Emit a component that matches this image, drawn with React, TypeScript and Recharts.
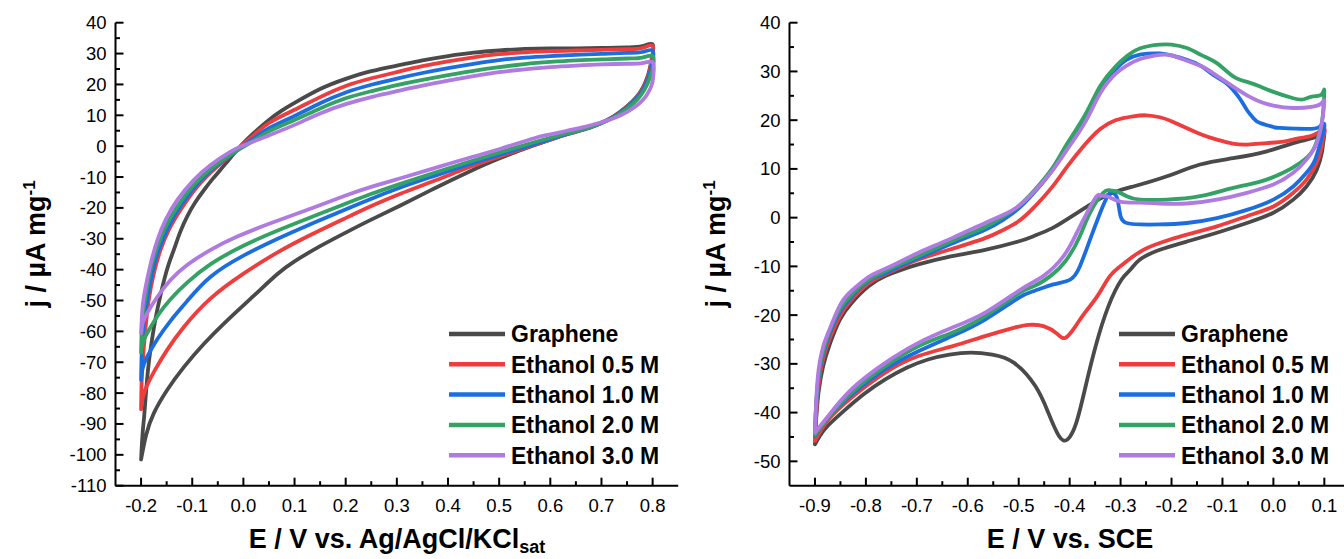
import React from "react";
import { LineChart, Line, XAxis, YAxis, Legend } from "recharts";

const FONT = "'Liberation Sans', Arial, Helvetica, sans-serif";

const seriesNames = ["Graphene", "Ethanol 0.5 M", "Ethanol 1.0 M", "Ethanol 2.0 M", "Ethanol 3.0 M"];
const seriesColors = ["#4a4a4a", "#ef3d3d", "#1c6ee0", "#33a264", "#b07be0"];

// tick labels (majors); minor ticks sit halfway between
const xMajorA = [-0.2, -0.1, 0.0, 0.1, 0.2, 0.3, 0.4, 0.5, 0.6, 0.7, 0.8];
const yMajorA = [-110, -100, -90, -80, -70, -60, -50, -40, -30, -20, -10, 0, 10, 20, 30, 40];
const xMajorB = [-0.9, -0.8, -0.7, -0.6, -0.5, -0.4, -0.3, -0.2, -0.1, 0.0, 0.1];
const yMajorB = [-50, -40, -30, -20, -10, 0, 10, 20, 30, 40];

// panel a: [E (V vs Ag/AgCl), j (uA/mg)], loop order: anodic then cathodic
const grapheneA = [
  [-0.2, -101.5], [-0.197, -93], [-0.194, -87.6], [-0.19, -79], [-0.185, -70.3], [-0.178, -62], [-0.171, -55.2],
  [-0.163, -49], [-0.155, -43.4], [-0.146, -38.2], [-0.136, -33.6], [-0.124, -28], [-0.11, -22.8], [-0.094, -18.2],
  [-0.077, -14.2], [-0.06, -10.6], [-0.045, -7.7], [-0.028, -4.3], [-0.012, -1.2], [0.0, 1.0], [0.02, 4.2], [0.05, 8.5],
  [0.075, 11.5], [0.1, 14], [0.15, 18.5], [0.2, 21.8], [0.25, 24.3], [0.3, 26.1], [0.35, 27.8], [0.4, 29.2], [0.45, 30.3],
  [0.5, 31.0], [0.55, 31.5], [0.6, 31.7], [0.65, 31.7], [0.7, 31.8], [0.75, 32.0], [0.78, 32.4], [0.8, 33],
  [0.799, 29], [0.795, 25.5], [0.79, 22.5], [0.782, 19.3], [0.769, 16], [0.749, 12.8], [0.723, 9.6], [0.697, 7.4],
  [0.665, 5.4], [0.632, 3.9], [0.6, 2.1], [0.567, 0.2], [0.5, -4.0], [0.437, -8.6], [0.372, -13.8], [0.307, -19.2],
  [0.25, -23.8], [0.2, -28.0], [0.15, -32.4], [0.1, -37.3], [0.066, -41.5], [0.02, -48.5], [-0.032, -56.5], [-0.077, -64],
  [-0.116, -71.5], [-0.149, -79], [-0.175, -86.5], [-0.19, -93.5], [-0.2, -101.5],
];
const ethanol05A = [
  [-0.2, -85.2], [-0.199, -76.8], [-0.196, -68.2], [-0.191, -58.5], [-0.185, -49.8], [-0.175, -41.2], [-0.162, -33.6],
  [-0.146, -27.2], [-0.123, -20.7], [-0.09, -13.1], [-0.051, -6.6], [-0.012, -1.2], [0.0, 0.8], [0.02, 3.5], [0.05, 7.5],
  [0.1, 11.8], [0.15, 15.9], [0.2, 19.5], [0.25, 22.0], [0.3, 24.0], [0.35, 25.9], [0.4, 27.5], [0.45, 28.8], [0.5, 29.8],
  [0.55, 30.4], [0.6, 30.8], [0.65, 31.0], [0.7, 31.2], [0.75, 31.4], [0.78, 31.8], [0.8, 32.5],
  [0.799, 28.5], [0.795, 25], [0.79, 22], [0.782, 19], [0.769, 15.8], [0.749, 12.6], [0.723, 9.5], [0.697, 7.3],
  [0.665, 5.3], [0.632, 3.8], [0.6, 2.1], [0.567, 0.3], [0.5, -3.4], [0.437, -7.1], [0.372, -11.3], [0.307, -15.4],
  [0.25, -19.4], [0.196, -23.6], [0.131, -28.8], [0.066, -34.5], [0.001, -41.2], [-0.064, -49.3], [-0.116, -58.5],
  [-0.149, -66], [-0.171, -72], [-0.188, -77.4], [-0.197, -81.7], [-0.2, -85.2],
];
const ethanol10A = [
  [-0.2, -75.7], [-0.199, -68.2], [-0.196, -59.5], [-0.189, -50.9], [-0.181, -43.3], [-0.17, -35.8], [-0.155, -29.3],
  [-0.136, -22.8], [-0.11, -16.4], [-0.077, -9.9], [-0.038, -4.5], [-0.012, -1.4], [0.0, 0.2], [0.02, 2.5], [0.05, 5.8],
  [0.1, 9.8], [0.15, 13.9], [0.2, 17.4], [0.25, 19.9], [0.3, 21.9], [0.35, 23.7], [0.4, 25.3], [0.45, 26.7], [0.5, 27.9],
  [0.55, 28.7], [0.6, 29.2], [0.65, 29.6], [0.7, 29.9], [0.75, 30.2], [0.78, 30.5], [0.8, 31],
  [0.8, 27.5], [0.796, 24.5], [0.791, 21.8], [0.783, 18.8], [0.77, 15.6], [0.75, 12.5], [0.724, 9.5], [0.697, 7.3],
  [0.665, 5.4], [0.632, 3.9], [0.6, 2.3], [0.567, 0.6], [0.5, -2.8], [0.437, -6.1], [0.372, -9.7], [0.307, -13.4],
  [0.248, -17.2], [0.196, -20.8], [0.131, -25.3], [0.066, -30.1], [0.001, -35.4], [-0.064, -42.3], [-0.11, -50.2],
  [-0.142, -56.5], [-0.168, -62.5], [-0.188, -68.2], [-0.197, -72], [-0.2, -75.7],
];
const ethanol20A = [
  [-0.2, -66.9], [-0.199, -60.6], [-0.196, -54.1], [-0.189, -46.6], [-0.18, -39], [-0.168, -32.6], [-0.152, -26.1],
  [-0.129, -19.6], [-0.097, -12.6], [-0.058, -6.6], [-0.02, -2.2], [0.0, -0.2], [0.02, 1.8], [0.05, 4.8], [0.1, 8.5],
  [0.15, 12.2], [0.2, 15.5], [0.25, 17.8], [0.3, 19.8], [0.35, 21.5], [0.4, 23], [0.45, 24.4], [0.5, 25.6], [0.55, 26.6],
  [0.6, 27.3], [0.65, 27.8], [0.7, 28.1], [0.75, 28.4], [0.78, 28.7], [0.8, 29.2],
  [0.801, 26], [0.797, 23.5], [0.792, 21], [0.784, 18.3], [0.771, 15.3], [0.751, 12.3], [0.725, 9.4], [0.697, 7.3],
  [0.665, 5.5], [0.632, 4.1], [0.6, 2.7], [0.567, 1.2], [0.5, -2.1], [0.437, -5.3], [0.372, -8.7], [0.307, -12.2],
  [0.248, -15.6], [0.196, -18.9], [0.131, -23.1], [0.066, -27.4], [0.001, -32.2], [-0.064, -38.2], [-0.11, -44.2],
  [-0.142, -49.5], [-0.168, -55], [-0.188, -60.6], [-0.197, -63.9], [-0.2, -66.9],
];
const ethanol30A = [
  [-0.2, -60.6], [-0.197, -52], [-0.191, -45.5], [-0.181, -37.9], [-0.168, -30.4], [-0.152, -23.9], [-0.129, -17.4],
  [-0.097, -11], [-0.064, -6.1], [-0.025, -1.8], [0.0, 0.2], [0.05, 3.5], [0.1, 6.9], [0.15, 10.6], [0.2, 13.6],
  [0.25, 15.9], [0.3, 17.8], [0.35, 19.6], [0.4, 21.2], [0.45, 22.7], [0.5, 24.0], [0.55, 24.9], [0.6, 25.6],
  [0.65, 26.1], [0.7, 26.5], [0.75, 26.7], [0.78, 26.9], [0.8, 27.2],
  [0.802, 24], [0.8, 21], [0.795, 18.5], [0.786, 16], [0.772, 13.6], [0.752, 11.3], [0.725, 9.1], [0.697, 7.6],
  [0.665, 6.2], [0.632, 5.0], [0.6, 3.8], [0.567, 2.5], [0.5, -1.0], [0.437, -4.0], [0.372, -7.2], [0.307, -10.4],
  [0.25, -13.2], [0.2, -16.0], [0.131, -20.3], [0.053, -25], [-0.012, -29.3], [-0.064, -33.6], [-0.11, -38.5],
  [-0.142, -43.3], [-0.168, -48.8], [-0.188, -54.1], [-0.197, -57.4], [-0.2, -60.6],
];

// panel b: [E (V vs SCE), j (uA/mg)]
const grapheneB = [
  [-0.9, -46.5], [-0.898, -42], [-0.893, -35.9], [-0.884, -30.5], [-0.87, -25.7], [-0.851, -20.9], [-0.828, -17.5],
  [-0.795, -14.1], [-0.762, -12], [-0.73, -10.7], [-0.697, -9.6], [-0.631, -7.9], [-0.566, -6.6], [-0.501, -4.9],
  [-0.471, -3.8], [-0.435, -2.2], [-0.406, -0.4], [-0.37, 2], [-0.34, 3.9], [-0.31, 5.3], [-0.275, 6.4], [-0.209, 8.5],
  [-0.144, 10.9], [-0.079, 12.2], [-0.013, 13.6], [0.039, 15.3], [0.085, 16.6], [0.1, 17.3],
  [0.098, 15.5], [0.095, 13.3], [0.085, 9.8], [0.065, 6.4], [0.039, 3.7], [0.0, 1.0], [-0.052, -1.1], [-0.111, -3.1],
  [-0.17, -4.9], [-0.223, -6.6], [-0.262, -8.6], [-0.281, -10.7], [-0.298, -12.7], [-0.324, -18.2], [-0.349, -26.4],
  [-0.37, -35.2], [-0.387, -42.1], [-0.404, -45.5], [-0.421, -44.8], [-0.442, -40], [-0.467, -34.6], [-0.509, -29.8],
  [-0.552, -28.1], [-0.594, -27.7], [-0.636, -28.1], [-0.678, -29.1], [-0.72, -30.8], [-0.762, -33.2], [-0.805, -36.3],
  [-0.847, -40], [-0.881, -43.4], [-0.9, -46.5],
];
const ethanol05B = [
  [-0.9, -45.8], [-0.898, -41], [-0.893, -34.5], [-0.884, -29], [-0.87, -24.5], [-0.851, -20.2], [-0.828, -16.8],
  [-0.795, -13.5], [-0.762, -11.6], [-0.73, -10.1], [-0.697, -8.6], [-0.631, -6.4], [-0.566, -4.2], [-0.53, -2.5],
  [-0.501, -0.8], [-0.471, 2.0], [-0.435, 6.2], [-0.406, 10.3], [-0.37, 15], [-0.34, 18.2], [-0.31, 20], [-0.275, 20.8],
  [-0.25, 21], [-0.223, 20.6], [-0.2, 19.8], [-0.177, 18.7], [-0.14, 17], [-0.111, 16], [-0.08, 15.2], [-0.05, 15],
  [-0.013, 15.3], [0.02, 15.6], [0.052, 16.3], [0.08, 17], [0.1, 18.2],
  [0.098, 16.5], [0.095, 14.6], [0.085, 11.2], [0.065, 7.8], [0.039, 5.1], [0.0, 2.3], [-0.052, 0.3], [-0.111, -1.8],
  [-0.17, -3.5], [-0.223, -5.2], [-0.262, -7], [-0.295, -9.5], [-0.321, -12], [-0.345, -16], [-0.37, -19.5],
  [-0.39, -22.5], [-0.409, -24.7], [-0.425, -23.8], [-0.45, -22.3], [-0.48, -22], [-0.51, -22.6], [-0.566, -24.3],
  [-0.631, -26.4], [-0.697, -28.4], [-0.762, -31.8], [-0.828, -36.9], [-0.874, -41.5], [-0.9, -45.8],
];
const ethanol10B = [
  [-0.9, -44.8], [-0.898, -39.5], [-0.893, -33], [-0.884, -28], [-0.87, -23.5], [-0.851, -19.3], [-0.828, -16.2],
  [-0.795, -13], [-0.762, -11.4], [-0.73, -9.8], [-0.697, -8.3], [-0.631, -5.3], [-0.566, -2.5], [-0.53, -0.4],
  [-0.501, 1.8], [-0.471, 5.0], [-0.435, 9.6], [-0.406, 14.6], [-0.37, 20.6], [-0.34, 26.4], [-0.31, 30.4],
  [-0.288, 32.4], [-0.26, 33.5], [-0.223, 33.7], [-0.2, 33.3], [-0.17, 32.4], [-0.14, 31.0], [-0.118, 29.3],
  [-0.095, 27.8], [-0.079, 26.2], [-0.065, 24.3], [-0.052, 22.1], [-0.04, 20.5], [-0.026, 19.4], [0.0, 18.6],
  [0.013, 18.4], [0.065, 18.2], [0.09, 18.6], [0.1, 19.2],
  [0.097, 17], [0.092, 15.3], [0.082, 11.9], [0.065, 9.2], [0.039, 6.4], [0.0, 3.7], [-0.052, 1.6], [-0.111, -0.1],
  [-0.17, -1.1], [-0.223, -1.4], [-0.262, -1.4], [-0.288, -1.1], [-0.3, 0.3], [-0.306, 3.7], [-0.314, 5.1],
  [-0.324, 4.7], [-0.34, 1.0], [-0.36, -4.5], [-0.38, -10], [-0.399, -12.7], [-0.432, -13.7], [-0.471, -15.1],
  [-0.501, -16.5], [-0.566, -20.9], [-0.631, -24.3], [-0.697, -27.4], [-0.762, -31.1], [-0.828, -36.3], [-0.874, -41],
  [-0.9, -44.8],
];
const ethanol20B = [
  [-0.9, -44.6], [-0.898, -39], [-0.893, -32.5], [-0.884, -27.5], [-0.87, -23], [-0.851, -18.8], [-0.828, -15.8],
  [-0.795, -12.8], [-0.762, -11], [-0.73, -9.4], [-0.697, -7.9], [-0.631, -4.8], [-0.566, -1.9], [-0.53, 0.2],
  [-0.501, 2.3], [-0.471, 5.4], [-0.435, 10], [-0.406, 15], [-0.37, 21], [-0.34, 27], [-0.31, 31], [-0.288, 33.1],
  [-0.26, 34.8], [-0.223, 35.5], [-0.2, 35.5], [-0.17, 34.8], [-0.14, 33.3], [-0.111, 31.7], [-0.079, 29],
  [-0.05, 27.8], [-0.026, 26.9], [0.0, 25.8], [0.039, 24.5], [0.06, 24.3], [0.078, 24.9], [0.095, 25.3], [0.1, 26],
  [0.097, 21], [0.092, 18], [0.078, 13.9], [0.052, 11.2], [0.019, 9.2], [-0.026, 7.4], [-0.079, 6.1], [-0.144, 4.4],
  [-0.209, 3.7], [-0.262, 3.7], [-0.288, 4.4], [-0.308, 5.4], [-0.321, 5.6], [-0.334, 5.1], [-0.36, 1.0], [-0.38, -3.8],
  [-0.406, -8.6], [-0.438, -12], [-0.471, -14.1], [-0.501, -15.6], [-0.566, -20.2], [-0.631, -23.6], [-0.697, -26.4],
  [-0.762, -30.5], [-0.828, -35.9], [-0.874, -41], [-0.9, -44.6],
];
const ethanol30B = [
  [-0.9, -44.1], [-0.898, -38.5], [-0.893, -31.3], [-0.884, -26.5], [-0.874, -23.6], [-0.851, -18], [-0.828, -15],
  [-0.795, -12.2], [-0.762, -10.5], [-0.73, -8.9], [-0.697, -7.2], [-0.631, -4.2], [-0.566, -1.1], [-0.53, 0.6],
  [-0.501, 2.3], [-0.471, 5.2], [-0.435, 9.5], [-0.406, 13.8], [-0.37, 19.5], [-0.34, 25.5], [-0.31, 29.5],
  [-0.288, 31.2], [-0.26, 32.6], [-0.223, 33.4], [-0.2, 33.3], [-0.17, 32.2], [-0.14, 31], [-0.118, 29.6],
  [-0.079, 26.9], [-0.05, 25], [-0.026, 23.8], [0.0, 23], [0.039, 22.5], [0.078, 22.8], [0.095, 23.5], [0.1, 24],
  [0.098, 21.5], [0.095, 19.4], [0.085, 15.3], [0.065, 11.9], [0.039, 9.2], [0.0, 6.8], [-0.052, 5.1], [-0.111, 3.7],
  [-0.17, 2.9], [-0.223, 2.9], [-0.262, 3.1], [-0.301, 3.3], [-0.327, 4.4], [-0.34, 4.5], [-0.347, 4.4], [-0.366, 1.0],
  [-0.386, -3.1], [-0.412, -7.9], [-0.452, -12], [-0.497, -14.8], [-0.566, -19.5], [-0.631, -22.6], [-0.697, -25.7],
  [-0.762, -29.8], [-0.828, -35.2], [-0.874, -40.7], [-0.9, -44.1],
];

const loopsA = [grapheneA, ethanol05A, ethanol10A, ethanol20A, ethanol30A];
const loopsB = [grapheneB, ethanol05B, ethanol10B, ethanol20B, ethanol30B];

const toPoints = (loop: number[][]) => loop.map(([E, j]) => ({ E, j }));

const withMinors = (majors: number[]) => {
  const out: number[] = [];
  majors.forEach((m, i) => {
    out.push(m);
    if (i < majors.length - 1) out.push((m + majors[i + 1]) / 2);
  });
  return out;
};

type Side = "bottom" | "top" | "left" | "right";

// inward ticks (major / minor), labels only on bottom and left
const tickRenderer = (side: Side, majors: number[], digits: number | null) => (props: any) => {
  const { x, y, payload } = props;
  const v = Number(payload.value);
  const major = majors.some((m) => Math.abs(m - v) < 1e-9);
  const len = major ? 8 : 4.5;
  let x2 = x;
  let y2 = y;
  if (side === "bottom") y2 = y - len;
  if (side === "top") y2 = y + len;
  if (side === "left") x2 = x + len;
  if (side === "right") x2 = x - len;
  let label = null;
  if (major && digits !== null) {
    const txt = digits > 0 ? v.toFixed(digits) : String(Math.round(v));
    label =
      side === "bottom" ? (
        <text x={x} y={y + 26} textAnchor="middle" fontFamily={FONT} fontSize={18.5} fill="#000">
          {txt}
        </text>
      ) : (
        <text x={x - 9} y={y + 6.5} textAnchor="end" fontFamily={FONT} fontSize={18.5} fill="#000">
          {txt}
        </text>
      );
  }
  return (
    <g>
      <line x1={x} y1={y} x2={x2} y2={y2} stroke="#000" strokeWidth={2} />
      {label}
    </g>
  );
};

const LegendBox = () => (
  <svg width={230} height={160} style={{ display: "block", overflow: "visible" }}>
    {seriesNames.map((name, i) => {
      const cy = 19 + i * 30.3;
      return (
        <g key={name}>
          <line x1={0} x2={56} y1={cy} y2={cy} stroke={seriesColors[i]} strokeWidth={4.5} />
          <text x={62} y={cy + 8.3} fontFamily={FONT} fontWeight="bold" fontSize={23} fill="#000">
            {name}
          </text>
        </g>
      );
    })}
  </svg>
);

const frame = { stroke: "#000", strokeWidth: 2 };

type PanelProps = {
  left: number;
  width: number;
  marginRight: number;
  yAxisWidth: number;
  xDomain: [number, number];
  yDomain: [number, number];
  xMajor: number[];
  yMajor: number[];
  loops: number[][][];
  letter: string;
  letterX: number;
  yTitleX: number;
  xTitleX: number;
  xTitle: React.ReactNode;
  legendLeft: number;
};

const Panel = (p: PanelProps) => (
  <div style={{ position: "absolute", left: p.left, top: 0 }}>
    <LineChart width={p.width} height={559} margin={{ top: 22.7, right: p.marginRight, bottom: 0, left: 0 }}>
      <XAxis
        xAxisId="bottom"
        type="number"
        dataKey="E"
        domain={p.xDomain}
        allowDataOverflow
        ticks={withMinors(p.xMajor)}
        interval={0}
        height={73.3}
        tickSize={0}
        tickMargin={0}
        tickLine={false}
        axisLine={frame}
        tick={tickRenderer("bottom", p.xMajor, 1)}
        label={{
          content: () => (
            <text x={p.xTitleX} y={548} textAnchor="middle" fontFamily={FONT} fontWeight="bold" fontSize={27} fill="#000">
              {p.xTitle}
            </text>
          ),
        }}
      />
      <XAxis
        xAxisId="top"
        orientation="top"
        type="number"
        domain={p.xDomain}
        allowDataOverflow
        ticks={withMinors(p.xMajor)}
        interval={0}
        height={0}
        tickSize={0}
        tickMargin={0}
        tickLine={false}
        axisLine={frame}
        tick={tickRenderer("top", p.xMajor, null)}
        label={{
          content: () => (
            <text x={p.letterX} y={65.5} fontFamily={FONT} fontWeight="bold" fontSize={30} fill="#000">
              {p.letter}
            </text>
          ),
        }}
      />
      <YAxis
        yAxisId="left"
        type="number"
        dataKey="j"
        domain={p.yDomain}
        allowDataOverflow
        ticks={withMinors(p.yMajor)}
        interval={0}
        width={p.yAxisWidth}
        tickSize={0}
        tickMargin={0}
        tickLine={false}
        axisLine={frame}
        tick={tickRenderer("left", p.yMajor, 0)}
        label={{
          content: () => (
            <text
              transform={`translate(${p.yTitleX},244) rotate(-90)`}
              textAnchor="middle"
              fontFamily={FONT}
              fontWeight="bold"
              fontSize={27}
              fill="#000"
            >
              j / µA mg
              <tspan dy={-10} fontSize={17}>
                -1
              </tspan>
            </text>
          ),
        }}
      />
      <YAxis
        yAxisId="right"
        orientation="right"
        type="number"
        domain={p.yDomain}
        allowDataOverflow
        ticks={withMinors(p.yMajor)}
        interval={0}
        width={0}
        tickSize={0}
        tickMargin={0}
        tickLine={false}
        axisLine={frame}
        tick={tickRenderer("right", p.yMajor, null)}
      />
      {p.loops.map((loop, i) => (
        <Line
          key={seriesNames[i]}
          xAxisId="bottom"
          yAxisId="left"
          data={toPoints(loop)}
          dataKey="j"
          name={seriesNames[i]}
          type="natural"
          stroke={seriesColors[i]}
          strokeWidth={3.8}
          strokeLinejoin="round"
          strokeLinecap="round"
          dot={false}
          activeDot={false}
          isAnimationActive={false}
        />
      ))}
      <Legend
        layout="horizontal"
        align="center"
        verticalAlign="middle"
        wrapperStyle={{ left: p.legendLeft, top: 315, width: 230, height: 160 }}
        content={() => <LegendBox />}
      />
    </LineChart>
  </div>
);

export default function App() {
  return (
    <div
      style={{
        position: "absolute",
        left: 0,
        top: 0,
        width: 1344,
        height: 559,
        overflow: "hidden",
        background: "#fff",
      }}
    >
      <Panel
        left={0}
        width={690}
        marginRight={11.8}
        yAxisWidth={115.5}
        xDomain={[-0.25, 0.85]}
        yDomain={[-110, 40]}
        xMajor={xMajorA}
        yMajor={yMajorA}
        loops={loopsA}
        letter="a"
        letterX={133}
        yTitleX={45}
        xTitleX={397}
        xTitle={
          <>
            E / V vs. Ag/AgCl/KCl
            <tspan dy={5} fontSize={18}>
              sat
            </tspan>
          </>
        }
        legendLeft={449}
      />
      <Panel
        left={690}
        width={680}
        marginRight={20.2}
        yAxisWidth={99.5}
        xDomain={[-0.95, 0.15]}
        yDomain={[-55, 40]}
        xMajor={xMajorB}
        yMajor={yMajorB}
        loops={loopsB}
        letter="b"
        letterX={119}
        yTitleX={35}
        xTitleX={380}
        xTitle={<>E / V vs. SCE</>}
        legendLeft={429.3}
      />
    </div>
  );
}
